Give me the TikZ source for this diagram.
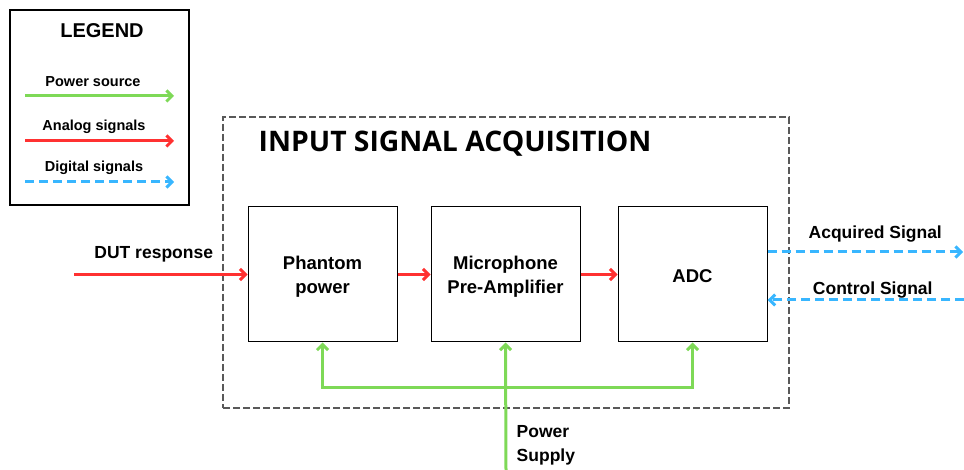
\documentclass[tikz,border=0pt]{standalone}
\usepackage{fontspec}
\setmainfont{Liberation Sans}
\newfontfamily\titlefont{Open Sans}
\usetikzlibrary{arrows.meta,positioning,calc}
\definecolor{pwrgreen}{HTML}{7ED957}
\definecolor{sigred}{HTML}{FF3131}
\definecolor{digblue}{HTML}{38B6FF}
\tikzset{every picture/.style={line width=0.75pt}}
\tikzset{
    barb/.tip={Straight Barb[length=5.5pt,width=11pt]},
    block/.style={draw, line width=1pt, minimum width=149pt, minimum height=135pt, align=center, text depth=0pt, font=\bfseries\fontsize{18.5}{24}\selectfont},
    lbl/.style={text=black, font=\bfseries\fontsize{17.5}{24}\selectfont, align=left},
    leglbl/.style={font=\bfseries\fontsize{14.5}{17}\selectfont},
    power/.style={pwrgreen, line width=3pt, -barb},
    analog/.style={sigred, line width=3pt, -barb},
    digital/.style={digblue, line width=3pt, dash pattern=on 9pt off 5pt, -barb},
}

\begin{document}
\begin{tikzpicture}[x=1pt, y=-1pt]
    \useasboundingbox (0,0) rectangle (964,470);
    % legend
    \node[draw, line width=1.2pt, minimum width=179pt, minimum height=195pt] (legend) at (99.5,107.5) {};
    \node[font=\bfseries\fontsize{20}{22}\selectfont] (legtitle) at (102,31) {LEGEND};
    \node[leglbl] (legpwr) at (93,81.5) {Power source};
    \node[leglbl] (legana) at (94,126.5) {Analog signals};
    \node[leglbl] (legdig) at (94,167.5) {Digital signals};
    \coordinate (lp0) at (25,96);  \coordinate (lp1) at (174,96);
    \coordinate (la0) at (25,141); \coordinate (la1) at (174,141);
    \coordinate (ld0) at (25,182); \coordinate (ld1) at (174,182);
    \draw[power] (lp0) -- (lp1);
    \draw[analog] (la0) -- (la1);
    \draw[digital] (ld0) -- (ld1);
    % acquisition stage
    \node[draw, gray!70!black, line width=1.2pt, dash pattern=on 7pt off 3pt, minimum width=566pt, minimum height=291pt] (isa) at (506,262.5) {};
    \node[anchor=west, font=\titlefont\bfseries\fontsize{28.3}{32}\selectfont] (isatitle) at (255,143.5) {INPUT SIGNAL ACQUISITION};
    \node[block] (phantom) at (322.5,274.5) {Phantom\\power};
    \node[block] (mic) at (505.5,274.5) {Microphone\\Pre-Amplifier};
    \node[block, text height=17pt] (adc) at (692.5,274.5) {ADC};
    % analog path
    \coordinate (dut) at (74,274.5);
    \draw[analog] (dut) -- (phantom.west) node[lbl, midway, above=8pt, xshift=-7pt] {DUT response};
    \draw[analog] (phantom) -- (mic);
    \draw[analog] (mic) -- (adc);
    % digital path
    \coordinate (acq) at (963,252);
    \coordinate (ctl) at (964,300);
    \draw[digital] ($(adc.east)+(0,-22.5)$) -- (acq) node[lbl, midway, above=5pt, xshift=10pt] {Acquired Signal};
    \draw[digital] (ctl) -- ($(adc.east)+(0,25.5)$) node[lbl, midway, above=-3pt, xshift=7pt] {Control Signal};
    % power supply
    \coordinate (psu) at (506,470);
    \coordinate (bus) at (506,387);
    \draw[power, barb-barb] (phantom.south) -- (phantom.south |- bus) -- (adc.south |- bus) -- (adc.south);
    \draw[power] (psu) -- (mic.south);
    \node[lbl, anchor=west] (psulbl) at (513,445) {Power\\Supply};
\end{tikzpicture}
\end{document}
